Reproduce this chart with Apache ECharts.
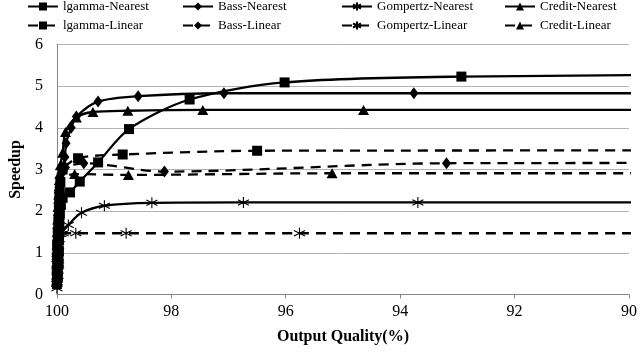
<!DOCTYPE html>
<html>
<head>
<meta charset="utf-8">
<script src="https://cdn.jsdelivr.net/npm/echarts@6/dist/echarts.min.js"></script>
<style>html,body{margin:0;padding:0;background:#fff}#c{width:640px;height:353px}</style>
</head>
<body>
<div id="c"></div>
<script>
const seriesNames = ['lgamma-Nearest','Bass-Nearest','Gompertz-Nearest','Credit-Nearest','lgamma-Linear','Bass-Linear','Gompertz-Linear','Credit-Linear'];
const xTicks = [100, 98, 96, 94, 92, 90];

const lgammaNearest = [[100,0.3],[99.99,0.45],[99.999,0.6],[99.975,0.75],[99.996,0.9],[99.97,1.05],[99.99,1.2],[99.965,1.35],[99.98,1.5],[99.96,1.65],[99.96,1.8],[99.95,1.95],[99.93,2.15],[99.9,2.32],[99.77,2.45],[99.6,2.71],[99.28,3.17],[98.74,3.97],[97.68,4.68],[96.02,5.09],[92.93,5.23],[85,5.3]];
const bassNearest = [[100,0.4],[99.98,0.55],[99.999,0.7],[99.97,0.85],[99.996,1.0],[99.975,1.15],[99.99,1.3],[99.965,1.45],[99.98,1.6],[99.96,1.75],[99.97,1.9],[99.955,2.05],[99.96,2.2],[99.955,2.35],[99.95,2.5],[99.94,2.7],[99.93,2.9],[99.9,3.05],[99.86,3.3],[99.84,3.63],[99.75,4.0],[99.66,4.27],[99.28,4.63],[98.58,4.76],[97.08,4.83],[93.76,4.83],[85,4.83]];
const gompertzNearest = [[100,0.15],[99.995,0.3],[99.98,0.45],[99.998,0.6],[99.975,0.75],[99.994,0.9],[99.97,1.05],[99.98,1.2],[99.96,1.33],[99.93,1.45],[99.8,1.67],[99.57,1.96],[99.17,2.13],[98.34,2.2],[96.74,2.21],[93.69,2.21],[85,2.21]];
const creditNearest = [[100,0.5],[99.98,0.65],[99.999,0.8],[99.97,0.95],[99.997,1.1],[99.975,1.25],[99.993,1.4],[99.965,1.55],[99.988,1.7],[99.96,1.85],[99.98,2.0],[99.96,2.15],[99.97,2.3],[99.955,2.45],[99.96,2.6],[99.955,2.75],[99.95,2.9],[99.94,3.1],[99.9,3.4],[99.85,3.9],[99.66,4.25],[99.37,4.38],[98.76,4.41],[97.45,4.43],[94.64,4.43],[85,4.43]];
const lgammaLinear = [[100,0.25],[99.985,0.4],[99.999,0.55],[99.975,0.7],[99.997,0.85],[99.97,1.0],[99.993,1.15],[99.965,1.3],[99.985,1.45],[99.96,1.6],[99.975,1.75],[99.955,1.9],[99.965,2.05],[99.955,2.2],[99.955,2.35],[99.95,2.5],[99.94,2.7],[99.9,3.0],[99.63,3.27],[98.85,3.36],[96.5,3.45],[85,3.46]];
const bassLinear = [[100,0.45],[99.99,0.6],[99.999,0.75],[99.97,0.9],[99.996,1.05],[99.975,1.2],[99.99,1.35],[99.965,1.5],[99.98,1.65],[99.96,1.8],[99.97,1.95],[99.955,2.1],[99.96,2.25],[99.955,2.4],[99.95,2.55],[99.94,2.75],[99.92,2.9],[99.85,3.05],[99.53,3.15],[98.12,2.95],[93.19,3.15],[85,3.16]];
const gompertzLinear = [[100,0.25],[99.99,0.4],[99.998,0.55],[99.97,0.7],[99.996,0.85],[99.975,1.0],[99.99,1.15],[99.97,1.3],[99.89,1.47],[99.67,1.47],[98.79,1.47],[95.76,1.47],[85,1.47]];
const creditLinear = [[100,0.6],[99.985,0.75],[99.999,0.9],[99.97,1.05],[99.997,1.2],[99.975,1.35],[99.993,1.5],[99.965,1.65],[99.987,1.8],[99.96,1.95],[99.98,2.1],[99.96,2.25],[99.97,2.4],[99.96,2.55],[99.95,2.75],[99.69,2.89],[98.75,2.87],[95.19,2.91],[85,2.91]];

const FONT = 'Liberation Serif';
const ASTER = 'path://M5,0L5,10M0.7,2.5L9.3,7.5M0.7,7.5L9.3,2.5';
const dataList = [lgammaNearest, bassNearest, gompertzNearest, creditNearest, lgammaLinear, bassLinear, gompertzLinear, creditLinear];
const symbols = ['rect','diamond',ASTER,'triangle','rect','diamond',ASTER,'triangle'];
const symSizes = [10,[9,12],11,[11,10],10,[9,12],11,[11,10]];

const series = dataList.map((d, i) => ({
  name: seriesNames[i],
  type: 'line',
  data: d,
  smooth: 0.3,
  clip: true,
  symbol: symbols[i],
  symbolSize: symSizes[i],
  showSymbol: true,
  lineStyle: { color: '#000', width: 2.3, type: i < 4 ? 'solid' : [10, 7] },
  itemStyle: { color: '#000', borderColor: '#000', borderWidth: symbols[i] === ASTER ? 1.1 : 0 },
  emphasis: { disabled: true },
  animation: false
}));

const colLeft = [27, 182, 341, 504];
const rowTop = [0, 19];
const legends = seriesNames.map((n, i) => ({
  data: [n],
  left: colLeft[i % 4],
  top: rowTop[Math.floor(i / 4)],
  itemWidth: 30,
  itemHeight: 10,
  padding: 0,
  textStyle: { fontFamily: FONT, fontSize: 13, color: '#000' }
}));

const chart = echarts.init(document.getElementById('c'), null, { renderer: 'canvas' });
chart.setOption({
  animation: false,
  legend: legends,
  grid: { left: 50, right: 8, top: 44.5, bottom: 58.5 },
  xAxis: {
    type: 'value', inverse: true, min: 90, max: 100, interval: 2,
    name: 'Output Quality(%)', nameLocation: 'middle', nameGap: 34,
    nameTextStyle: { fontFamily: FONT, fontSize: 16, fontWeight: 'bold', color: '#000' },
    axisLine: { lineStyle: { color: '#868686', width: 1 } },
    axisTick: { show: true, length: 4, lineStyle: { color: '#868686' } },
    axisLabel: { fontFamily: FONT, fontSize: 16, color: '#000', margin: 9,
      formatter: v => xTicks.indexOf(v) >= 0 ? String(v) : '' },
    splitLine: { show: false }
  },
  yAxis: {
    type: 'value', min: 0, max: 6, interval: 1,
    name: 'Speedup', nameLocation: 'middle', nameGap: 27,
    nameTextStyle: { fontFamily: FONT, fontSize: 16, fontWeight: 'bold', color: '#000' },
    axisLine: { show: true, lineStyle: { color: '#868686', width: 1 } },
    axisTick: { show: false },
    axisLabel: { fontFamily: FONT, fontSize: 16, color: '#000', margin: 14 },
    splitLine: { lineStyle: { color: '#b3b3b3', width: 1 } }
  },
  series: series
});
</script>
</body>
</html>
